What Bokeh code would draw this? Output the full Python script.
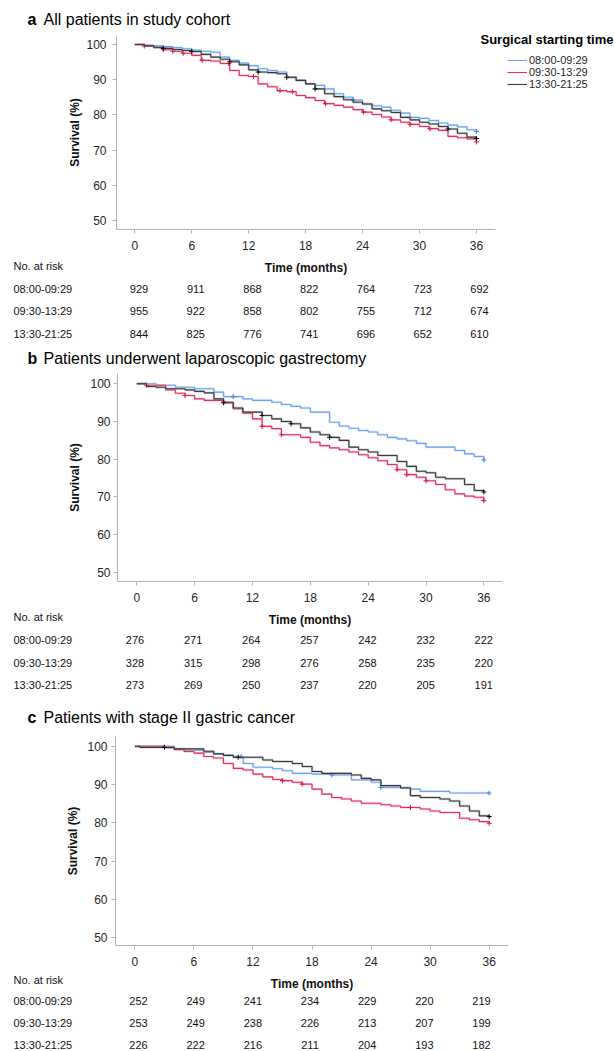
from bokeh.plotting import figure
from bokeh.models import (Range1d, Label, LabelSet, ColumnDataSource, Legend,
                          LegendItem, FixedTicker)
from bokeh.core.properties import value
from bokeh.layouts import column
from bokeh.embed import file_html
from bokeh.resources import INLINE

# ---------------- data ----------------
groups = ["08:00-09:29", "09:30-13:29", "13:30-21:25"]
month_ticks = [0, 6, 12, 18, 24, 30, 36]
surv_ticks = [50, 60, 70, 80, 90, 100]

titles = ["All patients in study cohort",
          "Patients underwent laparoscopic gastrectomy",
          "Patients with stage II gastric cancer"]
letters = ["a", "b", "c"]

# panel a : step curves (time in months, survival %)
a_blue_t = [0, 1, 2, 3, 4, 5, 6, 7, 8, 9, 10, 11, 12, 13, 14, 15, 16, 17, 18, 19, 20,
            21, 22, 23, 24, 25, 26, 27, 28, 29, 30, 31, 32, 33, 34, 35, 36]
a_blue_s = [100, 99.8, 99.6, 99.4, 99.1, 98.8, 98.4, 98.1, 97.8, 96.4, 95.5, 94.7, 94.0,
            93.1, 92.6, 92.2, 90.7, 89.8, 88.8, 88.4, 87.4, 86.0, 85.0, 84.2, 83.1, 82.6,
            82.2, 81.3, 80.5, 79.3, 79.0, 78.4, 77.7, 77.1, 76.6, 75.8, 75.3]
a_red_t = [0, 1, 2, 3, 4, 5, 6, 7, 8, 9, 10, 11, 12, 13, 14, 15, 16, 17, 18, 19, 20,
           21, 22, 23, 24, 25, 26, 27, 28, 29, 30, 31, 32, 33, 34, 35, 36]
a_red_s = [100, 99.6, 99.1, 98.5, 98.1, 97.5, 96.9, 95.5, 95.3, 94.6, 92.6, 91.2, 90.9,
           88.8, 88.0, 86.9, 86.6, 85.5, 84.9, 84.1, 83.2, 82.7, 82.2, 81.5, 80.8, 80.1,
           79.4, 78.6, 77.9, 77.3, 76.7, 76.1, 75.6, 73.9, 73.5, 73.2, 72.3]
a_black_t = [0, 1, 2, 3, 4, 5, 6, 7, 8, 9, 10, 11, 12, 13, 14, 15, 16, 17, 18, 19, 20,
             21, 22, 23, 24, 25, 26, 27, 28, 29, 30, 31, 32, 33, 34, 35, 36]
a_black_s = [100, 99.6, 99.2, 98.9, 98.6, 98.3, 98.0, 97.2, 96.4, 95.8, 95.1, 94.2, 92.8,
             92.2, 92.0, 91.7, 90.7, 89.8, 88.8, 87.4, 86.0, 85.2, 84.3, 83.6, 83.1, 81.7,
             81.2, 80.7, 79.3, 78.6, 77.9, 77.4, 76.7, 76.0, 74.8, 73.7, 73.3]
a_blue_ct = [23.0, 36.0]
a_blue_cs = [84.2, 75.3]
a_red_ct = [1.0, 3.0, 4.0, 5.1, 7.1, 9.9, 12.5, 15.3, 16.6, 20.1, 24.1, 27.0, 29.0, 31.1, 36.0]
a_red_cs = [99.6, 98.5, 98.1, 97.5, 95.5, 94.6, 90.9, 86.9, 86.6, 83.2, 80.8, 78.6, 77.3, 76.1, 72.3]
a_black_ct = [3.0, 6.0, 10.0, 13.0, 16.0, 19.0, 33.0, 36.0]
a_black_cs = [98.9, 98.0, 95.1, 92.2, 90.7, 87.4, 76.0, 73.3]

# panel b
b_blue_t = [0, 2, 4, 6, 8, 9, 11, 12, 14, 15, 16, 17, 18, 20, 21, 22, 23, 24, 25, 26,
            27, 28, 29, 30, 33, 34, 35, 36]
b_blue_s = [100, 99.6, 99.1, 98.7, 97.8, 96.6, 96.0, 95.6, 95.1, 94.5, 94.0, 93.6, 92.5,
            89.8, 88.8, 88.2, 87.6, 87.2, 86.5, 85.8, 85.4, 84.9, 84.2, 83.2, 82.3, 81.4,
            80.7, 79.8]
b_red_t = [0, 1, 3, 4, 5, 6, 7, 9, 10, 11, 12, 13, 14, 15, 17, 18, 19, 20, 21, 22, 23,
           24, 25, 26, 27, 28, 29, 30, 31, 32, 33, 34, 35, 36]
b_red_s = [100, 99.6, 98.4, 97.5, 96.9, 96.0, 95.6, 94.9, 93.4, 92.2, 90.7, 88.7, 88.1,
           86.5, 85.8, 84.5, 83.6, 83.0, 82.5, 81.9, 81.2, 80.4, 79.6, 78.6, 77.2, 75.9,
           75.2, 74.3, 73.3, 71.9, 70.8, 70.2, 69.9, 69.0]
b_black_t = [0, 1, 2, 3, 5, 6, 7, 8, 9, 10, 11, 13, 14, 15, 16, 17, 18, 19, 20, 21, 22,
             23, 24, 25, 27, 28, 29, 30, 31, 32, 34, 35, 36]
b_black_s = [100, 99.3, 99.1, 98.7, 98.4, 98.0, 97.6, 96.0, 95.1, 93.6, 92.5, 91.6, 90.7,
             90.0, 89.4, 88.3, 87.2, 86.5, 85.8, 85.0, 83.2, 82.5, 81.9, 81.0, 79.4, 78.1,
             76.8, 76.4, 75.2, 74.8, 73.3, 71.7, 71.3]
b_blue_ct = [10.0, 36.0]
b_blue_cs = [96.6, 79.8]
b_red_ct = [1.0, 5.0, 9.0, 13.0, 15.0, 27.0, 28.0, 30.0, 36.0]
b_red_cs = [99.6, 96.9, 94.9, 88.7, 86.5, 77.2, 75.9, 74.3, 69.0]
b_black_ct = [9.0, 13.0, 16.0, 20.0, 36.0]
b_black_cs = [95.1, 91.6, 89.4, 85.8, 71.3]

# panel c
c_blue_t = [0, 4, 5, 7, 8, 9, 10, 11, 12, 14, 15, 16, 18, 20, 22, 24, 25, 28, 29, 32, 36]
c_blue_s = [100, 99.3, 98.9, 98.4, 98.0, 97.6, 97.3, 95.5, 94.5, 94.1, 93.6, 92.9, 92.7,
            92.5, 91.2, 90.6, 89.2, 88.8, 88.2, 87.8, 87.8]
c_red_t = [0, 3, 4, 5, 6, 7, 8, 9, 10, 11, 12, 13, 14, 15, 16, 17, 18, 19, 20, 21, 22,
           23, 25, 26, 27, 29, 30, 31, 33, 34, 35, 36]
c_red_s = [100, 99.6, 99.1, 98.6, 98.2, 97.3, 96.9, 95.5, 94.2, 93.8, 92.7, 92.0, 91.3,
           91.0, 90.6, 90.1, 88.8, 87.5, 86.6, 86.2, 85.7, 85.1, 84.7, 84.4, 84.0, 83.6,
           83.1, 82.7, 81.2, 80.8, 80.3, 79.9]
c_black_t = [0, 0.5, 4, 7, 8, 9, 10, 13, 14, 16, 17, 18, 19, 22, 23, 24, 25, 27, 28, 29,
             31, 32, 33, 34, 35, 36]
c_black_s = [100, 99.7, 99.3, 98.7, 98.0, 97.6, 97.1, 96.4, 96.0, 95.5, 94.7, 93.4, 92.9,
             92.5, 91.6, 91.2, 89.7, 89.1, 87.1, 86.6, 86.2, 85.7, 84.4, 83.1, 81.8, 81.6]
c_blue_ct = [10.8, 20.0, 25.0, 36.0]
c_blue_cs = [97.3, 92.5, 89.2, 87.8]
c_red_ct = [15.0, 17.0, 28.0, 36.0]
c_red_cs = [91.0, 90.1, 84.0, 79.9]
c_black_ct = [3.0, 10.5, 36.0]
c_black_cs = [99.7, 97.1, 81.6]

# numbers at risk
a_risk = [[929, 911, 868, 822, 764, 723, 692],
          [955, 922, 858, 802, 755, 712, 674],
          [844, 825, 776, 741, 696, 652, 610]]
b_risk = [[276, 271, 264, 257, 242, 232, 222],
          [328, 315, 298, 276, 258, 235, 220],
          [273, 269, 250, 237, 220, 205, 191]]
c_risk = [[252, 249, 241, 234, 229, 220, 219],
          [253, 249, 238, 226, 213, 207, 199],
          [226, 222, 216, 211, 204, 193, 182]]

# ---------------- styling / layout ----------------
FONT = "Liberation Sans"
W = 614
COLORS = ["#6aa4ee", "#e6305c", "#3a3a3a"]
HALO = ["#b3d0f7", "#f29ab1", "#9a9a9a"]
CENS = ["#3f86e6", "#d81e4c", "#111111"]
AXIS_C = "#b3b3b3"
TXT_C = "#262626"

# page-pixel layout of each panel:
#  top/H: figure band; x0p/xpm: pixel of month 0 and px per month;
#  y100p/ypu: pixel of 100 % and px per %; L/R/T/B: extent of the axes;
#  r0p/r36p: pixel columns of the risk table
LAYOUT = [
    dict(top=0, H=345, x0p=134.3, xpm=9.49, y100p=44.0, ypu=3.52,
         L=116, R=495, T=35, B=229.3, r0p=138.5, r36p=479.0,
         title_y=19, risk_hdr=265.5, rows=(288.0, 310.5, 333.0), ystand=6, ylab_stand=1),
    dict(top=345, H=355, x0p=136.3, xpm=9.64, y100p=383.3, ypu=3.77,
         L=117, R=502, T=373, B=581, r0p=134.5, r36p=483.3,
         title_y=358.3, risk_hdr=616.7, rows=(639.3, 662.0, 684.7), ystand=3, ylab_stand=5),
    dict(top=700, H=351, x0p=134.4, xpm=9.84, y100p=745.7, ypu=3.83,
         L=115, R=508, T=736, B=945, r0p=138.0, r36p=481.0,
         title_y=717.3, risk_hdr=979.0, rows=(1000.5, 1022.3, 1044.0), ystand=4, ylab_stand=4),
]


def make_panel(idx, curves, censors, risk, with_legend=False):
    Lc = LAYOUT[idx]
    top, H = Lc["top"], Lc["H"]
    bottom = top + H

    def xv(px):
        return (px - Lc["x0p"]) / Lc["xpm"]

    def yv(py):
        return 100 - (py - Lc["y100p"]) / Lc["ypu"]

    rpm = (Lc["r36p"] - Lc["r0p"]) / 36.0

    p = figure(width=W, height=H, output_backend="svg", toolbar_location=None, title=None,
               x_range=Range1d(xv(0), xv(W)), y_range=Range1d(yv(bottom), yv(top)),
               min_border=0)
    p.outline_line_color = None
    p.grid.visible = False
    p.background_fill_color = "white"
    p.border_fill_color = "white"
    p.extra_x_ranges = {"risk": Range1d((0 - Lc["r0p"]) / rpm, (W - Lc["r0p"]) / rpm)}

    for ax in (p.xaxis[0], p.yaxis[0]):
        ax.axis_line_color = AXIS_C
        ax.major_tick_line_color = AXIS_C
        ax.major_tick_out = 4
        ax.major_tick_in = 0
        ax.minor_tick_line_color = None
        ax.major_label_text_font = FONT
        ax.major_label_text_font_size = "12px"
        ax.major_label_text_color = TXT_C
        ax.axis_label_text_font = FONT
        ax.axis_label_text_font_size = "12px"
        ax.axis_label_text_font_style = "bold"
        ax.axis_label_text_color = "#111111"
    p.xaxis.ticker = FixedTicker(ticks=month_ticks)
    p.yaxis.ticker = FixedTicker(ticks=surv_ticks)
    p.xaxis.axis_label = "Time (months)"
    p.yaxis.axis_label = "Survival (%)"
    p.xaxis.fixed_location = yv(Lc["B"])
    p.xaxis.bounds = (xv(Lc["L"]), xv(Lc["R"]))
    p.yaxis.fixed_location = xv(Lc["L"])
    p.yaxis.bounds = (yv(Lc["B"]), yv(Lc["T"]))
    p.xaxis.major_label_standoff = 7
    p.xaxis.axis_label_standoff = 8
    p.yaxis.major_label_standoff = Lc["ystand"]
    p.yaxis.axis_label_standoff = Lc["ylab_stand"]

    cores = []
    for k, ((t, s), (ct, cs)) in enumerate(zip(curves, censors)):
        p.step(t, s, mode="after", line_color=HALO[k], line_width=2.4, line_alpha=0.5)
        r = p.step(t, s, mode="after", line_color=COLORS[k], line_width=1.1)
        cores.append(r)
        p.scatter(ct, cs, marker="cross", size=5, line_color=CENS[k], line_width=1.1)

    def lab(px, py, text, size, bold=False, align="left", color=TXT_C):
        p.add_layout(Label(x=px, y=bottom - py, x_units="screen", y_units="screen",
                           text=text, text_font=FONT, text_font_size=f"{size}px",
                           text_font_style="bold" if bold else "normal",
                           text_align=align, text_baseline="middle", text_color=color))

    # panel title
    lab(27, Lc["title_y"], letters[idx], 16, bold=True, color="#000000")
    lab(43, Lc["title_y"], titles[idx], 16, color="#000000")

    # number-at-risk table
    lab(13, Lc["risk_hdr"], "No. at risk", 11, color="#111111")
    xs, ys, ts = [], [], []
    for g, row_y, vals in zip(groups, Lc["rows"], risk):
        lab(13, row_y, g, 11, color="#111111")
        for m, v in zip(month_ticks, vals):
            xs.append(m)
            ys.append(bottom - row_y)
            ts.append(str(v))
    src = ColumnDataSource(dict(x=xs, y=ys, t=ts))
    p.add_layout(LabelSet(x="x", y="y", text="t", source=src, x_range_name="risk",
                          y_units="screen", text_align="center", text_baseline="middle",
                          text_font=value(FONT), text_font_size=value("11px"),
                          text_color="#111111"))

    if with_legend:
        lab(480, 39, "Surgical starting time", 13, bold=True, color="#000000")
        items = [LegendItem(label=g, renderers=[r]) for g, r in zip(groups, cores)]
        leg = Legend(items=items, location=(507, bottom - 90),
                     label_text_font=FONT, label_text_font_size="11px",
                     label_text_color=TXT_C, glyph_width=20, glyph_height=12,
                     label_height=12, label_standoff=2, spacing=0, padding=0, margin=0,
                     border_line_color=None, background_fill_alpha=0)
        p.add_layout(leg)
    return p


pa = make_panel(0, [(a_blue_t, a_blue_s), (a_red_t, a_red_s), (a_black_t, a_black_s)],
                [(a_blue_ct, a_blue_cs), (a_red_ct, a_red_cs), (a_black_ct, a_black_cs)],
                a_risk, with_legend=True)
pb = make_panel(1, [(b_blue_t, b_blue_s), (b_red_t, b_red_s), (b_black_t, b_black_s)],
                [(b_blue_ct, b_blue_cs), (b_red_ct, b_red_cs), (b_black_ct, b_black_cs)],
                b_risk)
pc = make_panel(2, [(c_blue_t, c_blue_s), (c_red_t, c_red_s), (c_black_t, c_black_s)],
                [(c_blue_ct, c_blue_cs), (c_red_ct, c_red_cs), (c_black_ct, c_black_cs)],
                c_risk)

layout = column(pa, pb, pc, spacing=0)
open("out.html", "w").write(file_html(layout, INLINE))
